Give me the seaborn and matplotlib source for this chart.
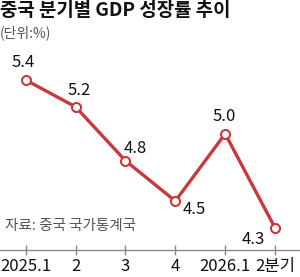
import matplotlib
matplotlib.use('Agg')
import matplotlib.pyplot as plt
import seaborn as sns
import pandas as pd

# 데이터
quarters = ['2025.1', '2', '3', '4', '2026.1', '2분기']
growth = [5.4, 5.2, 4.8, 4.5, 5.0, 4.3]
# 라벨 위치 (픽셀 오프셋)
label_offsets = [(-2, 17), (4, 16), (10, 12), (19, -8), (-1, 17), (-22, -12)]

RED = '#c83a3a'
GRAY = '#555555'

sns.set_theme(style='white')
plt.rcParams['font.family'] = ['Liberation Sans Narrow', 'Noto Sans CJK KR', 'DejaVu Sans']
plt.rcParams['axes.unicode_minus'] = False

df = pd.DataFrame({'x': range(len(quarters)), 'y': growth})

fig = plt.figure(figsize=(3.0, 2.77), dpi=100)
ax = fig.add_axes([0, 27 / 277, 1, 205 / 277])

sns.lineplot(data=df, x='x', y='y', ax=ax, color=RED, linewidth=2.4,
             marker='o', markersize=6.5, markerfacecolor='white',
             markeredgecolor=RED, markeredgewidth=1.5)

for i, v in enumerate(growth):
    ax.annotate(f'{v:.1f}', (i, v), xytext=label_offsets[i], textcoords='offset pixels',
                ha='center', va='center', fontsize=12, color='#111111')

ax.set_xlim(-0.515, 5.5)
ax.set_ylim(4.136, 5.66)
ax.set_xticks(range(len(quarters)))
ax.set_xticklabels(quarters, fontsize=12, color='#111111')
ax.set_yticks([])
ax.set_xlabel('')
ax.set_ylabel('')
for s in ['top', 'left', 'right']:
    ax.spines[s].set_visible(False)
ax.spines['bottom'].set_color('#888888')
ax.spines['bottom'].set_linewidth(1)
ax.tick_params(axis='x', direction='inout', length=7, width=1, color='#888888', pad=2, bottom=True)

fig.text(0.0, 1 - 10 / 277, '중국 분기별 GDP 성장률 추이', fontsize=13.6, fontweight='bold',
         family=['Noto Sans CJK KR'], ha='left', va='center', color='#111111')
fig.text(0.0, 1 - 33 / 277, '(단위:%)', fontsize=10, family=['Noto Sans CJK KR'],
         ha='left', va='center', color=GRAY)
fig.text(5 / 300, 1 - 226 / 277, '자료: 중국 국가통계국', fontsize=10.5, family=['Noto Sans CJK KR'],
         ha='left', va='center', color=GRAY)

fig.savefig('out.png', dpi=100)
